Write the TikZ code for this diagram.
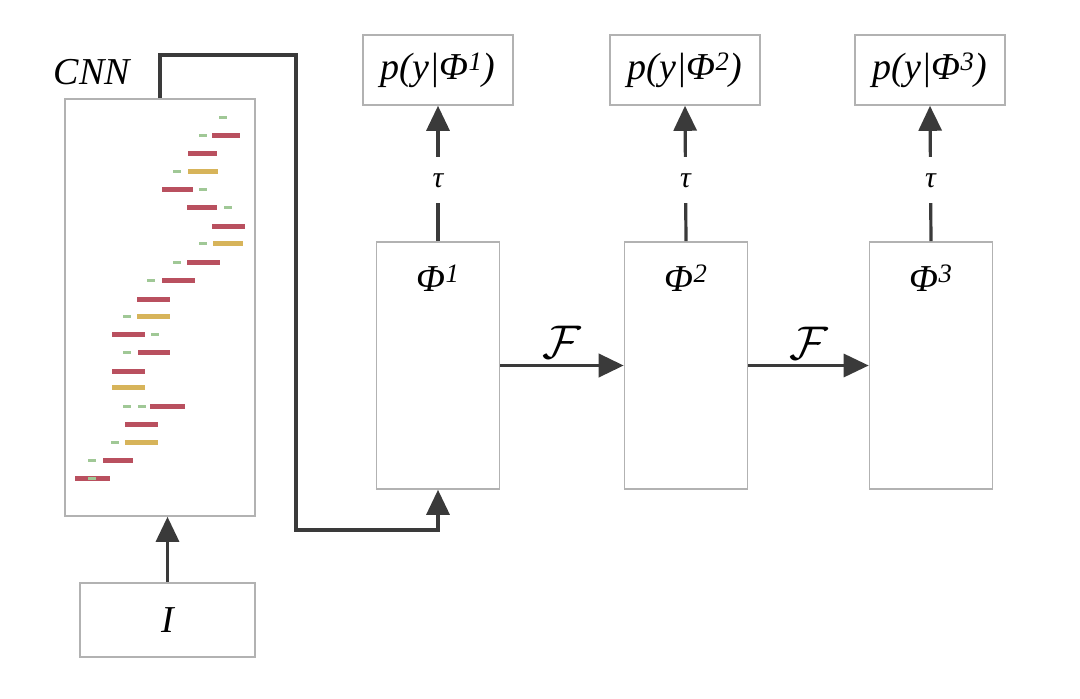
\documentclass[tikz,border=0pt]{standalone}
\usepackage{fontspec}
\setmainfont{Liberation Serif}
\usepackage{amsmath}
\usepackage{xcolor}
\usepackage{tikz}
\usetikzlibrary{arrows.meta,positioning}
\definecolor{linegray}{RGB}{58,58,58}
\definecolor{boxgray}{RGB}{178,178,178}
\definecolor{barred}{RGB}{185,80,95}
\definecolor{baryellow}{RGB}{215,180,90}
\definecolor{bargreen}{RGB}{160,200,150}
\tikzstyle{block}+=[draw=boxgray,line width=1.6pt,fill=white,inner sep=0pt]
\tikzstyle{probbox}+=[block,minimum width=150pt,minimum height=70pt,font=\fontsize{38}{42}\selectfont\itshape]
\tikzstyle{statebox}+=[block,minimum width=123pt,minimum height=247pt]
\tikzstyle{lbl}+=[font=\fontsize{38}{42}\selectfont\itshape]
\tikzstyle{small}+=[font=\fontsize{30}{34}\selectfont\itshape]
\tikzstyle{flow}+=[draw=linegray,line width=3.2pt,-{Triangle[length=25pt,width=23pt]}]
\tikzstyle{bar}+=[line width=5pt,line cap=butt]

\begin{document}
\begin{tikzpicture}[x=1pt,y=-1pt]
    \useasboundingbox (0,0) rectangle (1080,699);
    % feature extractor
    \node (cnn) [block,minimum width=190pt,minimum height=417pt] at (160,307.5) {};
    \node (cnnlbl) [lbl] at (92,72) {CNN};
    \node (img) [block,minimum width=175pt,minimum height=74pt,lbl] at (167.5,620) {I};
    \foreach \a/\b/\y/\c in {212/240/135/barred,188/217/153/barred,188/218/171/baryellow,
      162/193/189/barred,187/217/207/barred,212/245/226/barred,213/243/243/baryellow,
      187/220/262/barred,162/195/280/barred,137/170/299/barred,137/170/316/baryellow,
      112/145/334/barred,138/170/352/barred,112/145/371/barred,112/145/387/baryellow,
      150/185/406/barred,125/158/424/barred,125/158/442/baryellow,103/133/460/barred,
      75/110/478/barred}
      \draw[bar,\c] (\a,\y) -- (\b,\y);
    \foreach \x/\y in {223/117,203/135,177/171,203/189,228/207,203/243,177/262,
      151/280,127/316,155/334,127/352,127/406,142/406,115/442,92/460,92/478}
      \draw[line width=3pt,bargreen] (\x-4,\y) -- (\x+4,\y);
    % states
    \node (phi1) [statebox] at (438,365.5) {};
    \node (phi2) [statebox] at (686,365.5) {};
    \node (phi3) [statebox] at (931,365.5) {};
    \node (phi1lbl) [lbl,below=20pt of phi1.north] {Φ\textsuperscript{1}};
    \node (phi2lbl) [lbl,below=20pt of phi2.north] {Φ\textsuperscript{2}};
    \node (phi3lbl) [lbl,below=20pt of phi3.north] {Φ\textsuperscript{3}};
    \node (py1) [probbox] at (438,70) {p(y|Φ\textsuperscript{1})};
    \node (py2) [probbox] at (685,70) {p(y|Φ\textsuperscript{2})};
    \node (py3) [probbox] at (930,70) {p(y|Φ\textsuperscript{3})};
    % connectors
    \coordinate (top) at (296,55);
    \coordinate (bend) at (296,530);
    \draw[flow] (img.north) -- (img.north |- cnn.south);
    \draw[flow] (cnn.north) |- (top) -- (bend) -| (phi1.south);
    \foreach \i in {1,2,3}
      \draw[flow] (phi\i.north) -- node[fill=white,small,inner xsep=4pt,inner ysep=16pt,pos=0.45] {τ} (py\i.south);
    \draw[flow,line width=3.8pt] (phi1.east) -- node[lbl,scale=1.9,above=-3pt] {$\mathcal{F}$} (phi2.west);
    \draw[flow] (phi2.east) -- node[lbl,scale=1.9,above=-3pt] {$\mathcal{F}$} (phi3.west);
  \end{tikzpicture}
\end{document}
